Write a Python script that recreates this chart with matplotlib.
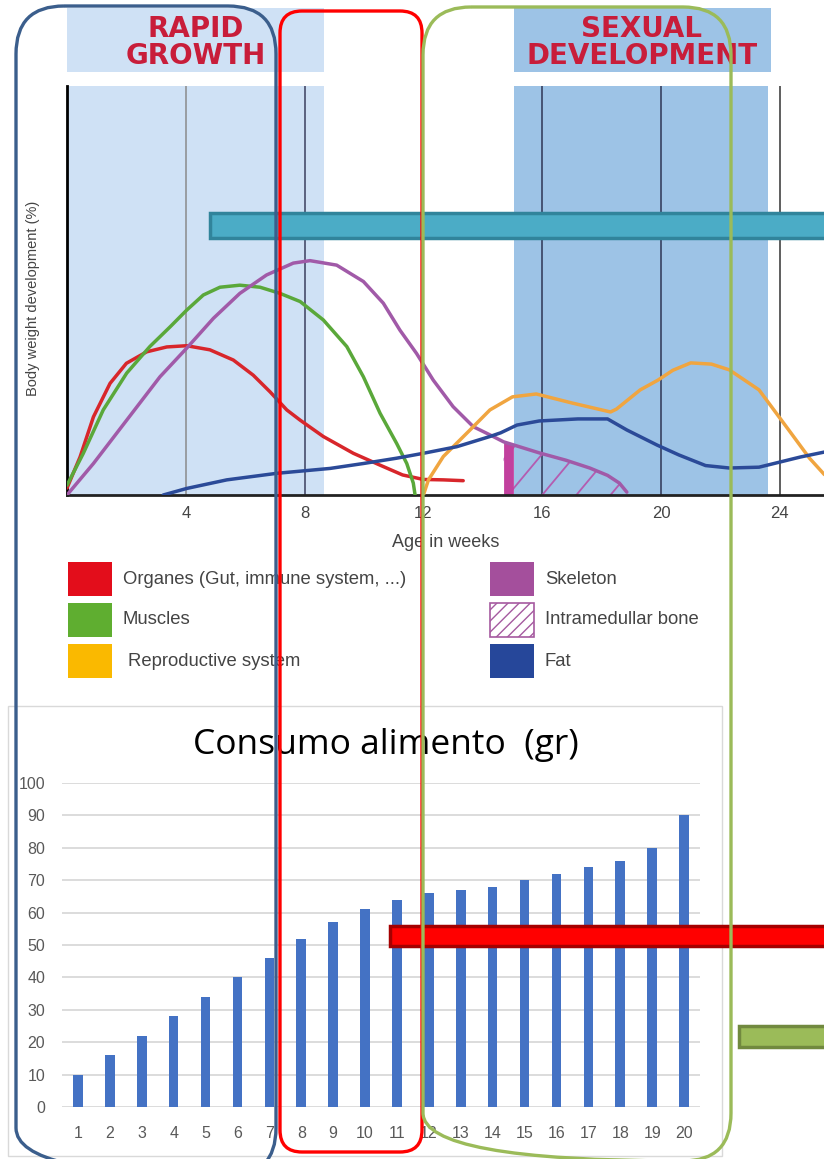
import matplotlib
matplotlib.use('Agg')
import matplotlib.pyplot as plt
from matplotlib.patches import Rectangle, FancyBboxPatch
import numpy as np

W, H = 824, 1159

# body weight development (%) against age in weeks
organ_wk = [0, 0.44, 0.89, 1.45, 2.0, 2.68, 3.36, 4.03, 4.81, 5.6, 6.27, 6.84, 7.4, 7.85, 8.63, 9.64, 10.54, 11.3, 12.0, 12.67, 13.34]
organ_pct = [1.7, 9.3, 19.1, 27.3, 32.2, 35, 36.2, 36.5, 35.5, 33, 29.3, 25.2, 20.8, 18.3, 14.3, 10.2, 7.3, 4.9, 3.8, 3.7, 3.5]

muscle_wk = [0, 0.55, 1.22, 2.01, 2.79, 3.47, 4.03, 4.59, 5.15, 5.82, 6.5, 7.17, 7.85, 8.63, 9.42, 9.98, 10.54, 11.1, 11.44, 11.66, 11.72]
muscle_pct = [2.4, 10.2, 20.8, 29.8, 36.3, 41.1, 45.2, 48.9, 50.8, 51.3, 50.8, 49.3, 47.3, 42.8, 36.3, 28.9, 20, 12.6, 7.7, 2.9, 0]

skel_wk = [0, 0.89, 2.01, 3.13, 4.03, 4.93, 5.82, 6.72, 7.62, 8.18, 9.08, 9.98, 10.65, 11.21, 11.77, 12.33, 13.0, 13.68,
           14.24, 14.7, 15.9, 16.8, 17.6, 18.2, 18.6, 18.85]
skel_pct = [0, 7.7, 18.3, 28.9, 35.9, 43.2, 49.3, 53.8, 56.7, 57.3, 56.2, 52.2, 46.9, 40.3, 34.6, 28.1, 21.6, 16.7,
            14.7, 13, 10.3, 8.5, 6.6, 4.8, 2.9, 0.7]

repro_wk = [12.0, 12.17, 12.67, 13.57, 14.24, 15.0, 15.8, 17.0, 18.3, 18.5, 19.3, 19.9, 20.4, 21.0, 21.7, 22.3, 23.3, 24.3, 25.0, 25.5]
repro_pct = [0, 3.7, 9.4, 15.9, 20.8, 24, 24.7, 22.5, 20.3, 21, 25.7, 28.1, 30.5, 32.3, 32, 30.6, 25.7, 15.9, 9, 5]

fat_wk = [3.24, 4.03, 5.38, 7.06, 8.86, 9.98, 11.1, 12.0, 13.12, 14.24, 14.6, 15.15, 15.9, 17.2, 18.2, 18.85, 19.87,
          20.6, 21.5, 22.3, 23.3, 24.7, 25.5]
fat_pct = [0, 1.6, 3.7, 5.3, 6.5, 7.7, 9.0, 10.2, 11.8, 14.3, 15.2, 17.1, 18.1, 18.6, 18.6, 15.9, 12.2,
           9.8, 7.2, 6.6, 6.8, 9.3, 10.5]

bone_start, bone_end = 14.7, 18.85
week_ticks = [4, 8, 12, 16, 20, 24]
rapid_span = (0, 8.65)
sexual_span = (15.05, 23.6)

# feed consumption per week
food_week = list(range(1, 21))
food_gr = [10, 16, 22, 28, 34, 40, 46, 52, 57, 61, 64, 66, 67, 68, 70, 72, 74, 76, 80, 90]

plt.rcParams['font.family'] = ['Liberation Sans', 'DejaVu Sans']

fig = plt.figure(figsize=(W / 100, H / 100), dpi=100)


def fbox(x0, y0, x1, y1):
    return [x0 / W, 1 - y1 / H, (x1 - x0) / W, (y1 - y0) / H]


# ---- top chart
ax1 = fig.add_axes(fbox(67, 86, 824, 495))
ax1.set_xlim(0, (824 - 67) / 29.7)
ax1.set_ylim(0, 100)
ax1.axvspan(*rapid_span, color='#cfe1f5', zorder=0, lw=0)
ax1.axvspan(*sexual_span, color='#9dc3e6', zorder=0, lw=0)
ax1.add_patch(Rectangle((rapid_span[0], 103.4), rapid_span[1] - rapid_span[0], 15.7, color='#cfe1f5',
                        clip_on=False, lw=0))
ax1.add_patch(Rectangle((sexual_span[0], 103.4), sexual_span[1] - sexual_span[0] + 0.1, 15.7, color='#9dc3e6',
                        clip_on=False, lw=0))
hdr = dict(ha='center', va='center', fontsize=20, fontweight='bold', color='#c81d3a', family='DejaVu Sans')
ax1.text(4.34, 114.0, 'RAPID', **hdr)
ax1.text(4.34, 107.3, 'GROWTH', **hdr)
ax1.text(19.36, 114.0, 'SEXUAL', **hdr)
ax1.text(19.36, 107.3, 'DEVELOPMENT', **hdr)

vcol = {4: '#8a8a8a', 8: '#3b3f5e', 12: '#6a6a6a', 16: '#2f3555', 20: '#2f3555', 24: '#333333'}
for t in week_ticks:
    ax1.axvline(t, color=vcol[t], lw=1.1, zorder=1)

line_kw = dict(lw=2.5, zorder=3, solid_capstyle='round', solid_joinstyle='round')
ax1.plot(organ_wk, organ_pct, color='#d8262b', **line_kw)
ax1.plot(muscle_wk, muscle_pct, color='#5aa83a', **line_kw)
ax1.plot(skel_wk, skel_pct, color='#a15aa8', **line_kw)
ax1.plot(repro_wk, repro_pct, color='#f0a540', **line_kw)
ax1.plot(fat_wk, fat_pct, color='#2b4a98', **line_kw)

# intramedullar bone: hatched area under the skeleton curve
xs = np.array([bone_start] + [w for w in skel_wk if bone_start < w < bone_end] + [bone_end])
ys = np.interp(xs, skel_wk, skel_pct)
poly = ax1.fill_between(xs, 0, ys, facecolor='none', lw=0, zorder=2)
for c in np.arange(bone_start - 1.0, bone_end, 1.15):
    hl, = ax1.plot([c, c + 2.0], [0, 2.0 * 29.7 / 4.09 * 1.2], color='#b45cb0', lw=1.3, zorder=2)
    hl.set_clip_path(poly.get_paths()[0], poly.get_transform())
xb = np.array([bone_start, bone_start + 0.33])
ax1.fill_between(xb, 0, np.interp(xb, skel_wk, skel_pct), color='#c2409e', lw=0, zorder=2)

for s in ['top', 'right']:
    ax1.spines[s].set_visible(False)
ax1.spines['left'].set_linewidth(2)
ax1.spines['bottom'].set_linewidth(2)
ax1.spines['bottom'].set_color('#222222')
ax1.set_xticks(week_ticks)
ax1.set_yticks([])
ax1.tick_params(axis='x', length=0, pad=8, labelsize=12, labelcolor='#444444')
ax1.set_xlabel('Age in weeks', fontsize=13, color='#444444', labelpad=9)
fig.text(33 / W, 1 - 298 / H, 'Body weight development (%)', rotation=90, ha='center', va='center',
         fontsize=10.5, color='#444444')

# ---- bottom chart
ax2 = fig.add_axes(fbox(62, 783, 700, 1107))
ax2.bar(food_week, food_gr, width=0.3, color='#4472c4', zorder=2)
ax2.set_xlim(0.5, 20.5)
ax2.set_ylim(0, 100)
ax2.set_yticks(range(0, 101, 10))
ax2.set_xticks(food_week)
ax2.grid(axis='y', color='#d9d9d9', lw=1.3, zorder=0)
ax2.set_axisbelow(True)
for s in ax2.spines.values():
    s.set_visible(False)
ax2.tick_params(length=0, labelcolor='#595959', labelsize=11.5)
ax2.tick_params(axis='x', pad=14)
ax2.tick_params(axis='y', pad=12)
fig.text(386 / W, 1 - 745 / H, 'Consumo alimento  (gr)', ha='center', va='center', fontsize=25.5,
         family=['Open Sans', 'DejaVu Sans'])

# ---- overlay: legend, frames and marker shapes
ov = fig.add_axes([0, 0, 1, 1], zorder=10)
ov.set_xlim(0, W)
ov.set_ylim(H, 0)
ov.axis('off')
ov.patch.set_alpha(0)

legend_items = [
    (68, 562, '#e30d1b', 'Organes (Gut, immune system, ...)', 123),
    (68, 603, '#5fae30', 'Muscles', 123),
    (68, 644, '#fab900', 'Reproductive system', 128),
    (490, 562, '#a44f9c', 'Skeleton', 545),
    (490, 603, None, 'Intramedullar bone', 545),
    (490, 644, '#26479a', 'Fat', 545),
]
for x, y, c, lab, tx in legend_items:
    if c is None:
        ov.add_patch(Rectangle((x, y), 44, 34, facecolor='white', edgecolor='#a55aa0', hatch='///', lw=1.2))
    else:
        ov.add_patch(Rectangle((x, y), 44, 34, color=c, lw=0))
    ov.text(tx, y + 17, lab, ha='left', va='center', fontsize=13.3, color='#444444')

ov.add_patch(Rectangle((8, 706), 714, 450, fill=False, ec='#d9d9d9', lw=1))

ov.add_patch(Rectangle((210, 213), 640, 25, fc='#4bacc6', ec='#31849b', lw=2.5, zorder=2))
ov.add_patch(Rectangle((390, 926), 460, 20, fc='#ff0000', ec='#a50000', lw=2.5, zorder=2))
ov.add_patch(Rectangle((739, 1026), 110, 21, fc='#9bbb59', ec='#71893f', lw=2.5, zorder=2))

ov.add_patch(FancyBboxPatch((16, 6), 260, 1170, boxstyle='round,pad=0,rounding_size=48',
                            fill=False, ec='#3b5e8c', lw=2.4, zorder=3))
ov.add_patch(FancyBboxPatch((280, 11), 142, 1141, boxstyle='round,pad=0,rounding_size=22',
                            fill=False, ec='#ff0000', lw=2.4, zorder=3))
ov.add_patch(FancyBboxPatch((423, 7), 308, 1154, boxstyle='round,pad=0,rounding_size=48',
                            fill=False, ec='#9bbb59', lw=2.4, zorder=3))

fig.savefig('out.png', dpi=100)
